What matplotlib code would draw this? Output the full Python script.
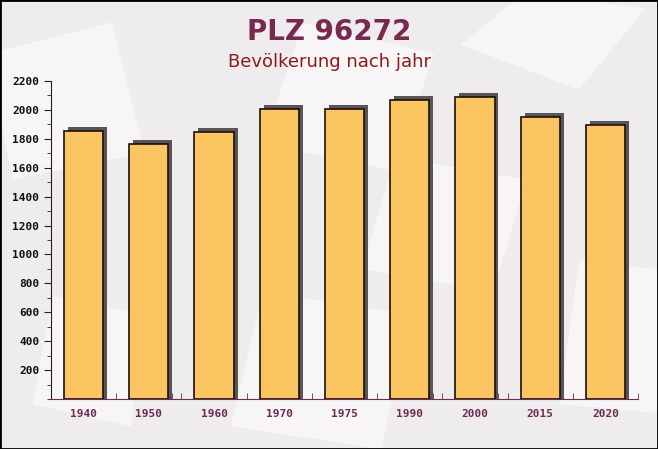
import numpy as np
import matplotlib
matplotlib.use("Agg")
import matplotlib.pyplot as plt
from matplotlib.patches import Rectangle, Polygon
from matplotlib.ticker import MultipleLocator

# Data
years = ["1940", "1950", "1960", "1970", "1975", "1990", "2000", "2015", "2020"]
population = [1855, 1765, 1850, 2003, 2005, 2069, 2088, 1950, 1894]

fig = plt.figure(figsize=(6.58, 4.49), dpi=100)
fig.patch.set_facecolor("#efecee")

# background axes with faint decorative shapes
bg = fig.add_axes([0, 0, 1, 1], zorder=-1)
bg.set_xlim(0, 1)
bg.set_ylim(0, 1)
bg.axis("off")
shapes = [
    [(0.02, 0.60), (0.22, 0.66), (0.17, 0.95), (-0.02, 0.88)],
    [(0.40, 0.68), (0.60, 0.62), (0.66, 0.88), (0.46, 0.95)],
    [(0.70, 0.90), (0.88, 0.80), (0.98, 0.98), (0.80, 1.02)],
    [(0.35, 0.05), (0.58, 0.00), (0.62, 0.30), (0.40, 0.35)],
    [(0.85, 0.10), (1.00, 0.08), (1.00, 0.40), (0.88, 0.42)],
    [(0.05, 0.10), (0.20, 0.05), (0.22, 0.30), (0.08, 0.34)],
    [(0.55, 0.40), (0.75, 0.35), (0.80, 0.60), (0.60, 0.65)],
]
for s in shapes:
    bg.add_patch(Polygon(s, closed=True, facecolor="white", alpha=0.5, edgecolor="none"))

ax = fig.add_axes([51/658, 1-399/449, 587/658, 318/449], zorder=1)
ax.set_facecolor("none")

x = np.arange(len(years))
w = 0.6
# shadow bars
ax.bar(x + 0.06, np.array(population) + 28, width=w, color="#5a5454",
       edgecolor="none", zorder=2)
ax.bar(x, population, width=w, color="#fbc562", edgecolor="#1a1010",
       linewidth=1.2, zorder=3)

ax.set_xlim(-0.5, 8.5)
ax.set_ylim(0, 2200)
ax.set_xticks(x)
ax.set_xticklabels(years)
ax.set_yticks(np.arange(200, 2201, 200))
ax.yaxis.set_minor_locator(MultipleLocator(100))
ax.set_xticks(np.concatenate([x + 0.35, x + 0.5]), minor=True)

for sp in ["top", "right"]:
    ax.spines[sp].set_visible(False)
ax.spines["left"].set_color("#222222")
ax.spines["bottom"].set_color("#6b2d50")
ax.tick_params(axis="y", which="major", length=5, color="#222222", direction="out")
ax.tick_params(axis="y", which="minor", length=3, color="#222222")
ax.tick_params(axis="x", which="major", length=0, pad=7)
ax.tick_params(axis="x", which="minor", length=4, direction="in", color="#6b2d50")

for lab in ax.get_yticklabels():
    lab.set_fontfamily("DejaVu Sans Mono")
    lab.set_fontweight("bold")
    lab.set_fontsize(8)
    lab.set_color("#111111")
for lab in ax.get_xticklabels():
    lab.set_fontfamily("DejaVu Sans Mono")
    lab.set_fontweight("bold")
    lab.set_fontsize(8)
    lab.set_color("#6b2d50")

fig.text(0.5, 1-32/449, "PLZ 96272", ha="center", va="center",
         fontsize=20, fontweight="bold", color="#77294f")
fig.text(0.5, 1-62/449, "Bevölkerung nach jahr", ha="center", va="center",
         fontsize=13, color="#8b1a1a")

# border
fig.patches.append(Rectangle((0, 0), 1, 1, transform=fig.transFigure, fill=False,
                             edgecolor="black", linewidth=2, zorder=10))

fig.savefig("out.png", dpi=100, facecolor=fig.get_facecolor())
